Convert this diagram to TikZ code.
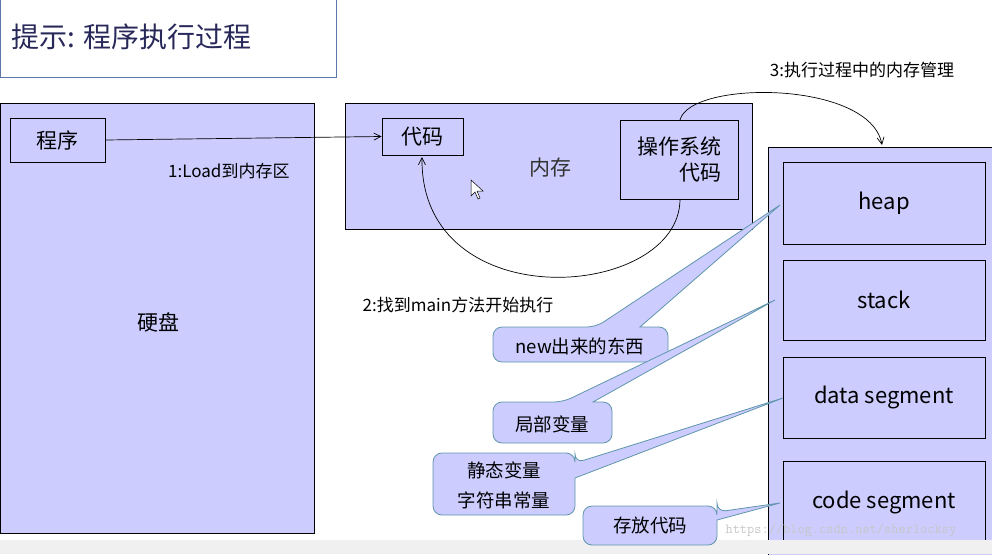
\documentclass[tikz,border=0pt]{standalone}
\usepackage{fontspec}
\setmainfont{Noto Sans CJK SC}
\usetikzlibrary{arrows.meta}
\definecolor{lav}{RGB}{204,204,255}
\definecolor{cb}{RGB}{95,150,170}
\begin{document}
\begin{tikzpicture}[x=1pt,y=-1pt,
  box/.style={draw=black,fill=lav,line width=0.8pt},
  call/.style={draw=cb,fill=lav,line width=0.8pt,rounded corners=9pt},
  lbl/.style={font=\fontsize{17}{20}\selectfont,inner sep=0pt},
  clbl/.style={font=\fontsize{18.5}{30}\selectfont,inner sep=0pt},
  arr/.style={-{Straight Barb[length=7pt,width=7pt]},line width=0.7pt}]
\useasboundingbox (0,0) rectangle (992,554);
% title
\draw[draw={rgb,255:red,90;green,120;blue,170},line width=0.8pt] (0,-2) rectangle (336,77);
\node[font=\fontsize{28}{32}\selectfont,text={rgb,255:red,40;green,40;blue,90},anchor=west] (title) at (8,37) {提示: 程序执行过程};
% disk
\draw[box] (0,103) rectangle (314,533);
\node[lbl,font=\fontsize{21}{24}\selectfont] (disk) at (158,322) {硬盘};
\node[box,minimum width=95pt,minimum height=44pt,font=\fontsize{21}{24}\selectfont] (prog) at (57.5,140) {程序};
% memory
\draw[box] (345,103) rectangle (752,229);
\node[lbl,font=\fontsize{21}{24}\selectfont,text=black!80] (mem) at (550,168) {内存};
\node[box,minimum width=81pt,minimum height=37pt,font=\fontsize{21}{24}\selectfont] (code) at (422.5,136.5) {代码};
\node[box,minimum width=118pt,minimum height=79pt,font=\fontsize{21}{26}\selectfont,align=right] (os) at (679,159.5) {操作系统\\代码};
% arrow 1
\draw[arr] (prog.east) -- (code.west);
\node[lbl,anchor=west] (l1) at (168,171) {1:Load到内存区};
% arrow 2
\coordinate (osb) at (680,199);
\coordinate (cdb) at (422,157);
\draw[arr] (osb) .. controls (680,300) and (420,320) .. (cdb);
\node[lbl] (l2) at (458,305) {2:找到main方法开始执行};
% right area
\draw[box] (768,147) rectangle (996,560);
\node[box,minimum width=202pt,minimum height=82pt,font=\fontsize{22}{26}\selectfont] (heap) at (884,203) {heap};
\node[box,minimum width=202pt,minimum height=80pt,font=\fontsize{22}{26}\selectfont] (stack) at (884,300) {stack};
\node[box,minimum width=202pt,minimum height=81pt,font=\fontsize{22}{26}\selectfont] (data) at (884,397.5) {data segment};
\node[box,minimum width=202pt,minimum height=82pt,font=\fontsize{22}{26}\selectfont] (cseg) at (884,502) {code segment};
% arrow 3
\coordinate (ost) at (680,120);
\draw[arr] (ost) .. controls (690,80) and (870,80) .. (882,145);
\node[lbl] (l3) at (862,70) {3:执行过程中的内存管理};
% bottom strip and watermark
\fill[black!6] (0,540) rectangle (992,554);
\node[font=\fontsize{14}{16}\selectfont\ttfamily,text=black!22,anchor=west] (wm) at (722,530) {https://blog.csdn.net/sherlocksy};
% callouts
\draw[call] (493,345) -- (493,327) -- (596,327) {[sharp corners] -- (780,205) -- (640,327)} -- (668,327) -- (668,362) -- (493,362) -- cycle;
\node[clbl] (c1) at (580,346) {new出来的东西};
\draw[call] (493,420) -- (493,402) -- (563,402) {[sharp corners] -- (775,300) -- (593,402)} -- (612,402) -- (612,443) -- (493,443) -- cycle;
\node[clbl] (c2) at (552,424) {局部变量};
\draw[call] (433,485) -- (433,453) -- (575,453) -- (575,463) {[sharp corners] -- (783,398) -- (575,478)} -- (575,515) -- (433,515) -- cycle;
\node[clbl,align=center] (c3) at (504,485) {静态变量\\字符串常量};
\draw[call] (583,525) -- (583,506) -- (717,506) -- (717,512) {[sharp corners] -- (780,503) -- (717,520)} -- (717,545) -- (583,545) -- cycle;
\node[clbl] (c4) at (650,525) {存放代码};
% cursor
\draw[fill=white,line width=0.5pt] (471,180) -- (471,196) -- (475,192) -- (478,199) -- (480,198) -- (477,191) -- (483,191) -- cycle;
\end{tikzpicture}
\end{document}
